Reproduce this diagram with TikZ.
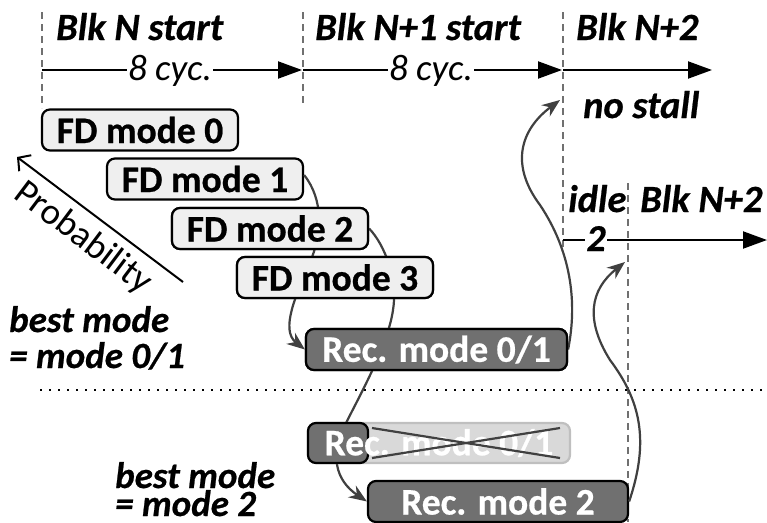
\documentclass[tikz,border=0pt]{standalone}
\usepackage{fontspec}
\setmainfont{Carlito}[BoldFeatures={FakeBold=0.6},BoldItalicFeatures={FakeBold=0.6}]
\usetikzlibrary{arrows.meta}
\definecolor{fdfill}{HTML}{EFEFEF}
\definecolor{recfill}{HTML}{707070}
\definecolor{xfill}{HTML}{D9D9D9}
\definecolor{xborder}{HTML}{BFBFBF}
\definecolor{curvecol}{HTML}{404040}
\definecolor{dashcol}{HTML}{707070}
\tikzset{
  ttl/.style={font=\fontsize{38.5}{40}\selectfont\bfseries\itshape, inner sep=0pt, anchor=base west},
  bestm/.style={font=\fontsize{37}{40}\selectfont\bfseries\itshape, inner sep=0pt, anchor=base west},
  cyc/.style={font=\fontsize{37}{40}\selectfont\itshape, fill=white, inner sep=1.5pt, anchor=base},
  boxtxt/.style={font=\fontsize{37.5}{40}\selectfont\bfseries},
  fdbox/.style={boxtxt, draw, line width=2.2pt, rounded corners=8pt, fill=fdfill, minimum width=196pt, minimum height=41pt, inner sep=0pt},
  recbox/.style={boxtxt, draw, line width=2.2pt, rounded corners=8pt, fill=recfill, minimum height=41pt, inner sep=0pt, text=white},
  vdash/.style={draw=dashcol, line width=1.8pt, dash pattern=on 7pt off 5pt},
  tline/.style={line width=2pt, -{Triangle[length=24pt,width=17pt]}},
  flow/.style={draw=curvecol, line width=2.2pt, -{Stealth[length=18pt,width=14pt]}},
}
\begin{document}
\begin{tikzpicture}[x=1pt,y=-1pt]
\useasboundingbox (0,0) rectangle (767,522);
% vertical dashed lines
\coordinate (d1t) at (42,12); \coordinate (d1b) at (42,108);
\coordinate (d2t) at (303,12); \coordinate (d2b) at (303,103);
\coordinate (d3t) at (563,12); \coordinate (d3b) at (563,252);
\coordinate (d4t) at (628,183); \coordinate (d4b) at (628,522);
\draw[vdash] (d1t) -- (d1b);
\draw[vdash] (d2t) -- (d2b);
\draw[vdash] (d3t) -- (d3b);
\draw[vdash] (d4t) -- (d4b);
% dotted separator
\coordinate (s0) at (40,390); \coordinate (s1) at (767,390);
\draw[line width=2pt, dash pattern=on 2pt off 7pt] (s0) -- (s1);
% timeline
\coordinate (t0) at (42,70); \coordinate (t1) at (302,70);
\coordinate (t1b) at (303,70); \coordinate (t2) at (562,70);
\coordinate (t2b) at (563,70); \coordinate (t3) at (712,70);
\draw[tline] (t0) -- (t1);
\draw[tline] (t1b) -- (t2);
\draw[tline] (t2b) -- (t3);
\coordinate (u0) at (563,240); \coordinate (u1) at (767,240);
\draw[tline] (u0) -- (u1);
\node[cyc] (c1) at (170,80) {8 cyc.};
\node[cyc] (c2) at (431,80) {8 cyc.};
\node[cyc, font=\fontsize{38}{40}\selectfont\bfseries\itshape] (idl2) at (596,251) {2};
\node[ttl] (bn) at (56,40) {Blk N start};
\node[ttl] (bn1) at (315,40) {Blk N+1 start};
\node[ttl] (bn2) at (576,40) {Blk N+2};
\node[ttl] (nst) at (583,118) {no stall};
\node[ttl] (idle) at (568,212) {idle};
\node[ttl] (bn2b) at (640,212) {Blk N+2};
\node[bestm] (bm1a) at (9,332) {best mode};
\node[bestm] (bm1b) at (9,368) {= mode 0/1};
\node[bestm] (bm2a) at (115,488) {best mode};
\node[bestm] (bm2b) at (115,516) {= mode 2};
% probability
\coordinate (pa) at (183,282); \coordinate (pb) at (17,157);
\draw[line width=2pt, -{Straight Barb[length=9pt,width=20pt]}] (pa) -- (pb);
\node[font=\fontsize{37}{40}\selectfont, rotate=-37, inner sep=0pt] (prob) at (83,238) {Probability};
% boxes (placed first for anchors)
\node[fdbox] (fd0) at (140,130) {FD mode 0};
\node[fdbox] (fd1) at (205,179) {FD mode 1};
\node[fdbox] (fd2) at (270,228.5) {FD mode 2};
\node[fdbox] (fd3) at (335,277.5) {FD mode 3};
\node[recbox, minimum width=261pt] (rec01) at (436.5,349.5) {Rec. mode 0/1};
\node[recbox, minimum width=260pt] (rec2) at (498,501.5) {Rec. mode 2};
\coordinate (ns) at (560,100);
\coordinate (idt) at (625,262);
% curves
\draw[flow] ([yshift=4pt]fd1.east) .. controls (324,200) and (322,235) .. (310,262) .. controls (296,295) and (280,330) .. (rec01.west);
\draw[flow] (fd2.east) .. controls (385,245) and (398,280) .. (393,310) .. controls (388,345) and (360,395) .. (345,425) .. controls (330,455) and (335,480) .. (rec2.west);
\draw[flow] (rec01.east) .. controls (578,300) and (570,250) .. (540,205) .. controls (510,165) and (520,130) .. (ns);
\draw[flow] (rec2.east) .. controls (650,440) and (640,400) .. (610,360) .. controls (585,320) and (590,290) .. (idt);
% redraw boxes over curves
\node[fdbox] at (fd2.center) {FD mode 2};
\node[fdbox] at (fd3.center) {FD mode 3};
\node[recbox, minimum width=261pt] at (rec01.center) {Rec. mode 0/1};
% crossed box
\node[draw=xborder, fill=xfill, line width=2.2pt, rounded corners=8pt, minimum width=262pt, minimum height=40pt, inner sep=0pt] (xb) at (439,443) {};
\node[recbox, minimum width=60pt, minimum height=40pt] (xs) at (338,443) {};
\node[boxtxt, text=white, inner sep=0pt] (xt) at (xb.center) {Rec. mode 0/1};
\coordinate (xa) at (372,428); \coordinate (xbb) at (560,458);
\coordinate (xc) at (372,458); \coordinate (xd) at (560,428);
\draw[curvecol, line width=2.2pt] (xa) -- (xbb);
\draw[curvecol, line width=2.2pt] (xc) -- (xd);
\end{tikzpicture}
\end{document}
